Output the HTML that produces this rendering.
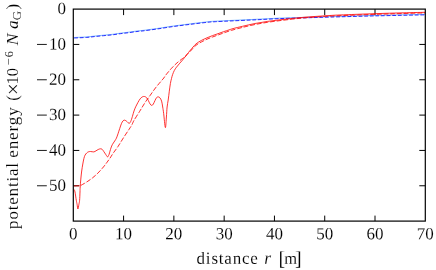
<!DOCTYPE html>
<html><head><meta charset="utf-8"><style>
html,body{margin:0;padding:0;background:#fff;}
body{width:436px;height:270px;overflow:hidden;}
svg{display:block;}
text{font-family:"Liberation Serif",serif;font-size:17px;fill:#000;stroke:#fff;stroke-width:0.1px;}
</style></head><body>
<svg width="436" height="270" viewBox="0 0 436 270">
<rect width="436" height="270" fill="#fff"/>
<g stroke="#000" stroke-width="1.0" fill="none">
<line x1="123.59" y1="221.10" x2="123.59" y2="215.60"/><line x1="123.59" y1="9.10" x2="123.59" y2="15.10"/><line x1="173.87" y1="221.10" x2="173.87" y2="215.60"/><line x1="173.87" y1="9.10" x2="173.87" y2="15.10"/><line x1="224.16" y1="221.10" x2="224.16" y2="215.60"/><line x1="224.16" y1="9.10" x2="224.16" y2="15.10"/><line x1="274.44" y1="221.10" x2="274.44" y2="215.60"/><line x1="274.44" y1="9.10" x2="274.44" y2="15.10"/><line x1="324.73" y1="221.10" x2="324.73" y2="215.60"/><line x1="324.73" y1="9.10" x2="324.73" y2="15.10"/><line x1="375.01" y1="221.10" x2="375.01" y2="215.60"/><line x1="375.01" y1="9.10" x2="375.01" y2="15.10"/><line x1="73.30" y1="44.43" x2="79.30" y2="44.43"/><line x1="425.30" y1="44.43" x2="419.30" y2="44.43"/><line x1="73.30" y1="79.77" x2="79.30" y2="79.77"/><line x1="425.30" y1="79.77" x2="419.30" y2="79.77"/><line x1="73.30" y1="115.10" x2="79.30" y2="115.10"/><line x1="425.30" y1="115.10" x2="419.30" y2="115.10"/><line x1="73.30" y1="150.43" x2="79.30" y2="150.43"/><line x1="425.30" y1="150.43" x2="419.30" y2="150.43"/><line x1="73.30" y1="185.77" x2="79.30" y2="185.77"/><line x1="425.30" y1="185.77" x2="419.30" y2="185.77"/>
</g>
<g fill="none" stroke-linecap="butt" stroke-linejoin="round">
<path d="M74.20 37.40 C76.29 37.30 83.27 37.05 86.75 36.80 C90.23 36.55 92.31 36.18 95.10 35.90 C97.89 35.62 100.70 35.37 103.50 35.10 C106.30 34.83 109.11 34.63 111.90 34.30 C114.69 33.97 117.47 33.47 120.25 33.10 C123.03 32.73 125.81 32.47 128.60 32.10 C131.39 31.73 134.60 31.20 137.00 30.90 C139.40 30.60 139.71 30.71 143.00 30.30 C146.29 29.89 151.67 29.18 156.75 28.45 C161.83 27.72 167.92 26.68 173.50 25.90 C179.08 25.12 184.67 24.44 190.25 23.75 C195.83 23.06 202.83 22.19 207.00 21.75 C211.17 21.31 211.08 21.34 215.25 21.10 C219.42 20.86 225.38 20.61 232.00 20.30 C238.62 19.99 247.00 19.63 255.00 19.25 C263.00 18.87 271.67 18.33 280.00 18.00 C288.33 17.67 296.67 17.50 305.00 17.25 C313.33 17.00 318.33 16.82 330.00 16.50 C341.67 16.18 359.17 15.68 375.00 15.30 C390.83 14.93 416.67 14.43 425.00 14.25" stroke="#3090ff" stroke-width="1" opacity="0.6" transform="translate(0 0.1)"/>
<path d="M74.20 37.40 C76.29 37.30 83.27 37.05 86.75 36.80 C90.23 36.55 92.31 36.18 95.10 35.90 C97.89 35.62 100.70 35.37 103.50 35.10 C106.30 34.83 109.11 34.63 111.90 34.30 C114.69 33.97 117.47 33.47 120.25 33.10 C123.03 32.73 125.81 32.47 128.60 32.10 C131.39 31.73 134.60 31.20 137.00 30.90 C139.40 30.60 139.71 30.71 143.00 30.30 C146.29 29.89 151.67 29.18 156.75 28.45 C161.83 27.72 167.92 26.68 173.50 25.90 C179.08 25.12 184.67 24.44 190.25 23.75 C195.83 23.06 202.83 22.19 207.00 21.75 C211.17 21.31 211.08 21.34 215.25 21.10 C219.42 20.86 225.38 20.61 232.00 20.30 C238.62 19.99 247.00 19.63 255.00 19.25 C263.00 18.87 271.67 18.33 280.00 18.00 C288.33 17.67 296.67 17.50 305.00 17.25 C313.33 17.00 318.33 16.82 330.00 16.50 C341.67 16.18 359.17 15.68 375.00 15.30 C390.83 14.93 416.67 14.43 425.00 14.25" stroke="#0000ff" stroke-width="0.8" stroke-dasharray="3.8 1.8" transform="translate(0 0.6)"/>
<path d="M74.20 186.00 C75.17 185.93 78.60 185.87 80.00 185.60 C81.40 185.33 81.43 185.03 82.60 184.40 C83.77 183.77 85.35 182.88 87.00 181.80 C88.65 180.72 90.67 179.37 92.50 177.90 C94.33 176.43 96.17 174.83 98.00 173.00 C99.83 171.17 102.00 168.68 103.50 166.90 C105.00 165.12 105.90 163.78 107.00 162.30 C108.10 160.82 109.08 159.50 110.10 158.00 C111.12 156.50 111.78 155.22 113.10 153.30 C114.42 151.38 116.27 149.10 118.00 146.50 C119.73 143.90 121.67 140.55 123.50 137.70 C125.33 134.85 127.62 131.52 129.00 129.40 C130.38 127.28 130.97 126.50 131.80 125.00 C132.63 123.50 132.72 122.63 134.00 120.40 C135.28 118.17 138.12 113.83 139.50 111.60 C140.88 109.37 141.28 108.65 142.30 107.00 C143.32 105.35 144.32 103.60 145.60 101.70 C146.88 99.80 148.35 97.90 150.00 95.60 C151.65 93.30 153.67 90.28 155.50 87.90 C157.33 85.52 159.62 82.95 161.00 81.30 C162.38 79.65 162.97 79.08 163.80 78.00 C164.63 76.92 164.72 76.42 166.00 74.80 C167.28 73.18 169.67 70.28 171.50 68.30 C173.33 66.32 175.17 64.53 177.00 62.90 C178.83 61.27 181.03 59.68 182.50 58.50 C183.97 57.32 184.47 57.05 185.80 55.80 C187.13 54.55 188.80 52.75 190.50 51.00 C192.20 49.25 194.17 46.82 196.00 45.30 C197.83 43.78 199.67 42.92 201.50 41.90 C203.33 40.88 205.17 40.02 207.00 39.20 C208.83 38.38 210.67 37.70 212.50 37.00 C214.33 36.30 216.17 35.67 218.00 35.00 C219.83 34.33 221.67 33.65 223.50 33.00 C225.33 32.35 227.42 31.62 229.00 31.10 C230.58 30.58 230.75 30.52 233.00 29.90 C235.25 29.28 238.83 28.30 242.50 27.40 C246.17 26.50 250.83 25.35 255.00 24.50 C259.17 23.65 263.33 22.95 267.50 22.30 C271.67 21.65 275.83 21.13 280.00 20.60 C284.17 20.07 288.33 19.57 292.50 19.10 C296.67 18.63 300.83 18.17 305.00 17.80 C309.17 17.43 313.33 17.18 317.50 16.90 C321.67 16.62 322.92 16.43 330.00 16.10 C337.08 15.77 351.67 15.22 360.00 14.90 C368.33 14.58 373.33 14.42 380.00 14.20 C386.67 13.98 392.50 13.82 400.00 13.60 C407.50 13.38 420.83 13.02 425.00 12.90" stroke="#ff0000" stroke-width="0.9" opacity="0.12"/>
<path d="M74.20 186.00 C75.17 185.93 78.60 185.87 80.00 185.60 C81.40 185.33 81.43 185.03 82.60 184.40 C83.77 183.77 85.35 182.88 87.00 181.80 C88.65 180.72 90.67 179.37 92.50 177.90 C94.33 176.43 96.17 174.83 98.00 173.00 C99.83 171.17 102.00 168.68 103.50 166.90 C105.00 165.12 105.90 163.78 107.00 162.30 C108.10 160.82 109.08 159.50 110.10 158.00 C111.12 156.50 111.78 155.22 113.10 153.30 C114.42 151.38 116.27 149.10 118.00 146.50 C119.73 143.90 121.67 140.55 123.50 137.70 C125.33 134.85 127.62 131.52 129.00 129.40 C130.38 127.28 130.97 126.50 131.80 125.00 C132.63 123.50 132.72 122.63 134.00 120.40 C135.28 118.17 138.12 113.83 139.50 111.60 C140.88 109.37 141.28 108.65 142.30 107.00 C143.32 105.35 144.32 103.60 145.60 101.70 C146.88 99.80 148.35 97.90 150.00 95.60 C151.65 93.30 153.67 90.28 155.50 87.90 C157.33 85.52 159.62 82.95 161.00 81.30 C162.38 79.65 162.97 79.08 163.80 78.00 C164.63 76.92 164.72 76.42 166.00 74.80 C167.28 73.18 169.67 70.28 171.50 68.30 C173.33 66.32 175.17 64.53 177.00 62.90 C178.83 61.27 181.03 59.68 182.50 58.50 C183.97 57.32 184.47 57.05 185.80 55.80 C187.13 54.55 188.80 52.75 190.50 51.00 C192.20 49.25 194.17 46.82 196.00 45.30 C197.83 43.78 199.67 42.92 201.50 41.90 C203.33 40.88 205.17 40.02 207.00 39.20 C208.83 38.38 210.67 37.70 212.50 37.00 C214.33 36.30 216.17 35.67 218.00 35.00 C219.83 34.33 221.67 33.65 223.50 33.00 C225.33 32.35 227.42 31.62 229.00 31.10 C230.58 30.58 230.75 30.52 233.00 29.90 C235.25 29.28 238.83 28.30 242.50 27.40 C246.17 26.50 250.83 25.35 255.00 24.50 C259.17 23.65 263.33 22.95 267.50 22.30 C271.67 21.65 275.83 21.13 280.00 20.60 C284.17 20.07 288.33 19.57 292.50 19.10 C296.67 18.63 300.83 18.17 305.00 17.80 C309.17 17.43 313.33 17.18 317.50 16.90 C321.67 16.62 322.92 16.43 330.00 16.10 C337.08 15.77 351.67 15.22 360.00 14.90 C368.33 14.58 373.33 14.42 380.00 14.20 C386.67 13.98 392.50 13.82 400.00 13.60 C407.50 13.38 420.83 13.02 425.00 12.90" stroke="#ff0000" stroke-width="0.8" stroke-dasharray="4.7 2"/>
<path d="M74.20 189.50 C74.33 189.92 74.65 190.20 75.00 192.00 C75.35 193.80 75.95 198.23 76.30 200.30 C76.65 202.37 76.83 202.95 77.10 204.40 C77.37 205.85 77.60 209.00 77.90 209.00 C78.20 209.00 78.62 205.85 78.90 204.40 C79.18 202.95 79.42 202.37 79.60 200.30 C79.78 198.23 79.90 194.22 80.00 192.00 C80.10 189.78 80.07 189.15 80.20 187.00 C80.33 184.85 80.55 181.77 80.80 179.10 C81.05 176.43 81.37 173.52 81.70 171.00 C82.03 168.48 82.43 166.08 82.80 164.00 C83.17 161.92 83.53 159.97 83.90 158.50 C84.27 157.03 84.53 156.12 85.00 155.20 C85.47 154.28 86.15 153.55 86.70 153.00 C87.25 152.45 87.67 152.15 88.30 151.90 C88.93 151.65 89.58 151.50 90.50 151.50 C91.42 151.50 92.88 152.02 93.80 151.90 C94.72 151.78 95.27 151.20 96.00 150.80 C96.73 150.40 97.47 149.83 98.20 149.50 C98.93 149.17 99.75 148.83 100.40 148.80 C101.05 148.77 101.55 148.87 102.10 149.30 C102.65 149.73 103.07 150.50 103.70 151.40 C104.33 152.30 105.25 153.78 105.90 154.70 C106.55 155.62 107.13 156.82 107.60 156.90 C108.07 156.98 108.43 155.68 108.70 155.20 C108.97 154.72 108.83 155.18 109.20 154.00 C109.57 152.82 110.35 149.72 110.90 148.10 C111.45 146.48 111.87 145.48 112.50 144.30 C113.13 143.12 114.05 142.02 114.70 141.00 C115.35 139.98 115.85 139.40 116.40 138.20 C116.95 137.00 117.45 135.40 118.00 133.80 C118.55 132.20 119.13 130.28 119.70 128.60 C120.27 126.92 120.85 124.98 121.40 123.70 C121.95 122.42 122.45 121.49 123.00 120.90 C123.55 120.31 124.05 120.05 124.70 120.15 C125.35 120.25 126.17 120.97 126.90 121.50 C127.63 122.03 128.47 123.30 129.10 123.30 C129.73 123.30 130.15 122.63 130.70 121.50 C131.25 120.37 131.85 118.25 132.40 116.50 C132.95 114.75 133.45 112.62 134.00 111.00 C134.55 109.38 135.05 108.22 135.70 106.80 C136.35 105.38 137.17 103.82 137.90 102.50 C138.63 101.18 139.37 99.83 140.10 98.90 C140.83 97.97 141.57 97.30 142.30 96.90 C143.03 96.50 143.77 96.35 144.50 96.50 C145.23 96.65 146.05 97.12 146.70 97.80 C147.35 98.48 147.85 99.58 148.40 100.60 C148.95 101.62 149.45 103.10 150.00 103.90 C150.55 104.70 151.15 105.37 151.70 105.40 C152.25 105.43 152.75 104.92 153.30 104.10 C153.85 103.28 154.45 101.58 155.00 100.50 C155.55 99.42 156.05 98.20 156.60 97.60 C157.15 97.00 157.75 96.87 158.30 96.90 C158.85 96.93 159.35 97.10 159.90 97.80 C160.45 98.50 161.13 99.57 161.60 101.10 C162.07 102.63 162.36 104.95 162.70 107.00 C163.04 109.05 163.21 109.97 163.65 113.40 C164.09 116.83 164.89 127.00 165.35 127.60 C165.81 128.20 166.11 120.43 166.40 117.00 C166.69 113.57 166.80 109.83 167.10 107.00 C167.40 104.17 167.83 102.63 168.20 100.00 C168.57 97.37 168.93 93.95 169.30 91.20 C169.67 88.45 170.03 85.62 170.40 83.50 C170.77 81.38 171.13 79.98 171.50 78.50 C171.87 77.02 172.13 75.93 172.60 74.60 C173.07 73.27 173.65 71.73 174.30 70.50 C174.95 69.27 175.68 68.30 176.50 67.20 C177.32 66.10 178.20 65.08 179.20 63.90 C180.20 62.72 181.40 61.42 182.50 60.10 C183.60 58.78 184.80 57.27 185.80 56.00 C186.80 54.73 187.72 53.50 188.50 52.50 C189.28 51.50 189.25 51.43 190.50 50.00 C191.75 48.57 194.17 45.50 196.00 43.90 C197.83 42.30 199.67 41.42 201.50 40.40 C203.33 39.38 205.17 38.60 207.00 37.80 C208.83 37.00 210.67 36.28 212.50 35.60 C214.33 34.92 216.17 34.35 218.00 33.70 C219.83 33.05 221.67 32.33 223.50 31.70 C225.33 31.07 227.42 30.42 229.00 29.90 C230.58 29.38 230.75 29.20 233.00 28.60 C235.25 28.00 238.83 27.15 242.50 26.30 C246.17 25.45 250.83 24.32 255.00 23.50 C259.17 22.68 263.33 22.02 267.50 21.40 C271.67 20.78 275.83 20.30 280.00 19.80 C284.17 19.30 288.33 18.83 292.50 18.40 C296.67 17.97 300.83 17.55 305.00 17.20 C309.17 16.85 313.33 16.58 317.50 16.30 C321.67 16.02 326.42 15.72 330.00 15.50 C333.58 15.28 334.00 15.22 339.00 15.00 C344.00 14.78 353.17 14.45 360.00 14.20 C366.83 13.95 373.33 13.72 380.00 13.50 C386.67 13.28 392.50 13.10 400.00 12.90 C407.50 12.70 420.83 12.40 425.00 12.30" stroke="#ff0000" stroke-width="0.8"/>
</g>
<rect x="73.3" y="9.1" width="352.0" height="212.0" stroke="#000" stroke-width="1.2" fill="none"/>
<g style="filter:grayscale(1)">
<g><text transform="translate(73.30 239.2) rotate(0.03)" text-anchor="middle">0</text><text transform="translate(123.59 239.2) rotate(0.03)" text-anchor="middle">10</text><text transform="translate(173.87 239.2) rotate(0.03)" text-anchor="middle">20</text><text transform="translate(224.16 239.2) rotate(0.03)" text-anchor="middle">30</text><text transform="translate(274.44 239.2) rotate(0.03)" text-anchor="middle">40</text><text transform="translate(324.73 239.2) rotate(0.03)" text-anchor="middle">50</text><text transform="translate(375.01 239.2) rotate(0.03)" text-anchor="middle">60</text><text transform="translate(425.30 239.2) rotate(0.03)" text-anchor="middle">70</text></g>
<g><text transform="translate(66.0 14.10) rotate(0.03)" text-anchor="end">0</text><text transform="translate(66.0 49.43) rotate(0.03)" text-anchor="end">10</text><line x1="37.0" y1="44.43" x2="46.8" y2="44.43" stroke="#000" stroke-width="0.9"/><text transform="translate(66.0 84.77) rotate(0.03)" text-anchor="end">20</text><line x1="37.0" y1="79.77" x2="46.8" y2="79.77" stroke="#000" stroke-width="0.9"/><text transform="translate(66.0 120.10) rotate(0.03)" text-anchor="end">30</text><line x1="37.0" y1="115.10" x2="46.8" y2="115.10" stroke="#000" stroke-width="0.9"/><text transform="translate(66.0 155.43) rotate(0.03)" text-anchor="end">40</text><line x1="37.0" y1="150.43" x2="46.8" y2="150.43" stroke="#000" stroke-width="0.9"/><text transform="translate(66.0 190.77) rotate(0.03)" text-anchor="end">50</text><line x1="37.0" y1="185.77" x2="46.8" y2="185.77" stroke="#000" stroke-width="0.9"/></g>
<text transform="translate(196.6 263.8) rotate(0.03)" textLength="61.2" lengthAdjust="spacing">distance</text>
<text transform="translate(264.2 263.8) rotate(0.03)" style="font-style:italic;font-size:17.5px">r</text>
<text transform="translate(278.5 264.9) rotate(0.03)" style="font-size:20px">[</text>
<text transform="translate(284.3 263.8) rotate(0.03)" style="font-size:16.5px">m</text>
<text transform="translate(294.9 264.9) rotate(0.03)" style="font-size:20px">]</text>
<text transform="translate(17.60 228.90) rotate(-90)" style="font-size:17px" textLength="66.00" lengthAdjust="spacing">potential</text><text transform="translate(17.60 157.80) rotate(-90)" style="font-size:17px" textLength="50.60" lengthAdjust="spacing">energy</text><text transform="translate(17.60 100.80) rotate(-90)" style="font-size:17px">(</text><text transform="translate(20.20 95.00) rotate(-90)" style="font-size:20.5px">×</text><text transform="translate(17.60 84.50) rotate(-90)" style="font-size:16.5px">10</text><text transform="translate(12.80 65.60) rotate(-90)" style="font-size:12.5px">−</text><text transform="translate(12.90 57.20) rotate(-90)" style="font-size:12.5px">6</text><text transform="translate(17.60 45.20) rotate(-90)" style="font-size:17.5px;font-style:italic">N</text><text transform="translate(17.60 29.00) rotate(-90)" style="font-size:17.5px;font-style:italic">a</text><text transform="translate(20.60 20.30) rotate(-90)" style="font-size:13px">G</text><text transform="translate(17.60 9.40) rotate(-90)" style="font-size:17px">)</text>
</g>
</svg>
</body></html>
